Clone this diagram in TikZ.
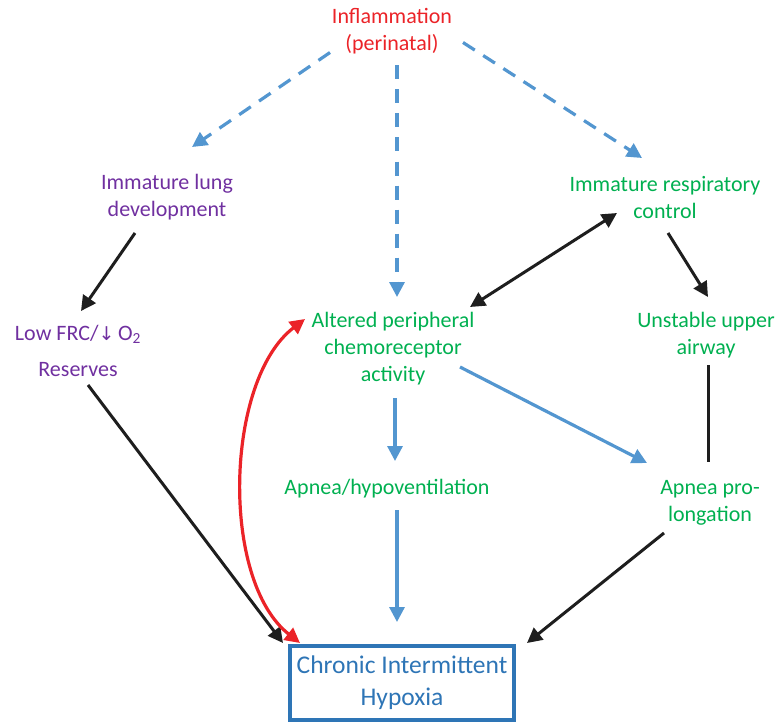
\documentclass[tikz,border=0pt]{standalone}
\usepackage{fontspec}
\setmainfont{Carlito}
\newfontfamily\symfont{DejaVu Sans}
\usetikzlibrary{arrows.meta,calc}

\definecolor{inflred}{RGB}{235,35,40}
\definecolor{lungpurple}{RGB}{112,48,160}
\definecolor{ctrlgreen}{RGB}{0,176,80}
\definecolor{linkblue}{RGB}{83,150,208}
\definecolor{boxblue}{RGB}{46,117,182}
\definecolor{linkblack}{RGB}{30,30,30}

\tikzset{
  lbl/.style={align=center, inner sep=0pt, font=\fontsize{22}{27}\selectfont},
  tip/.style={-{Triangle[length=15pt,width=15pt]}},
  dtip/.style={{Triangle[length=15pt,width=15pt]}-{Triangle[length=15pt,width=15pt]}},
  dashlink/.style={tip, linkblue, line width=3.2pt, dash pattern=on 14pt off 10pt},
  bluelink/.style={tip, linkblue, line width=3.2pt},
  blacklink/.style={tip, linkblack, line width=3pt},
  plainlink/.style={linkblack, line width=3pt},
  redlink/.style={dtip, inflred, line width=3.2pt},
}

\begin{document}
\begin{tikzpicture}[x=1pt,y=-1pt]
\useasboundingbox (0,0) rectangle (783,722);

% factors
\node[lbl, text=inflred]    (infl)   at (392,31.5)  {Inflammation\\(perinatal)};
\node[lbl, text=lungpurple] (lung)   at (167,197.5) {Immature lung\\development};
\node[lbl, text=ctrlgreen]  (resp)   at (665,197.5) {Immature respiratory\\control};
\node[lbl, text=lungpurple] (frc)    at (78,351)
  {Low FRC/{\symfont\fontsize{19}{27}\selectfont↓}\,O\textsubscript{2}\\[9pt]Reserves};
\node[lbl, text=ctrlgreen]  (chemo)  at (393,348.5) {Altered peripheral\\chemoreceptor\\activity};
\node[lbl, text=ctrlgreen]  (upper)  at (706,335.5) {Unstable upper\\airway};
\node[lbl, text=ctrlgreen]  (apnea)  at (387,489)   {Apnea/hypoventilation};
\node[lbl, text=ctrlgreen]  (prol)   at (710,502.5) {Apnea pro-\\longation};
\node[lbl, text=boxblue, draw=boxblue, line width=3.2pt,
      font=\fontsize{25.5}{32}\selectfont,
      minimum width=224pt, minimum height=74pt] (cih) at (402,683)
  {Chronic Intermittent\\Hypoxia};

% perinatal inflammation
\draw[dashlink] ([shift={(-62,21)}]infl.center)  -- ([shift={(25,-50.5)}]lung.center);
\draw[dashlink] ([shift={(5,34)}]infl.center)    -- ([shift={(4,-51.5)}]chemo.center);
\draw[dashlink] ([shift={(71,11)}]infl.center)   -- ([shift={(-23,-39.5)}]resp.center);

% lung pathway
\draw[blacklink] ([shift={(-32,35.5)}]lung.center) -- ([shift={(3,-40)}]frc.center);
\draw[blacklink] ([shift={(10,34)}]frc.center)     -- ([shift={(-119,-40)}]cih.center);

% respiratory control pathway
\draw[dtip, linkblack, line width=3pt]
  ([shift={(-48,15.5)}]resp.center) -- ([shift={(77,-41.5)}]chemo.center);
\draw[blacklink] ([shift={(3,35.5)}]resp.center)  -- ([shift={(2,-38.5)}]upper.center);
\draw[plainlink] ([shift={(2,29.5)}]upper.center) -- ([shift={(-2,-40.5)}]prol.center);
\draw[blacklink] ([shift={(-46,30.5)}]prol.center) -- ([shift={(125,-40)}]cih.center);

% chemoreceptor pathway
\draw[bluelink] ([shift={(2,49.5)}]chemo.center) -- ([shift={(8,-28)}]apnea.center);
\draw[bluelink] ([shift={(10,21)}]apnea.center)  -- ([shift={(-5,-61)}]cih.center);
\draw[bluelink] ([shift={(67,18.5)}]chemo.center) -- ([shift={(-63,-39.5)}]prol.center);

% hypoxia feedback
\draw[redlink] ([shift={(-88,-29.5)}]chemo.center)
  .. controls (225,380) and (220,580) .. ([shift={(-102,-40)}]cih.center);
\end{tikzpicture}
\end{document}
